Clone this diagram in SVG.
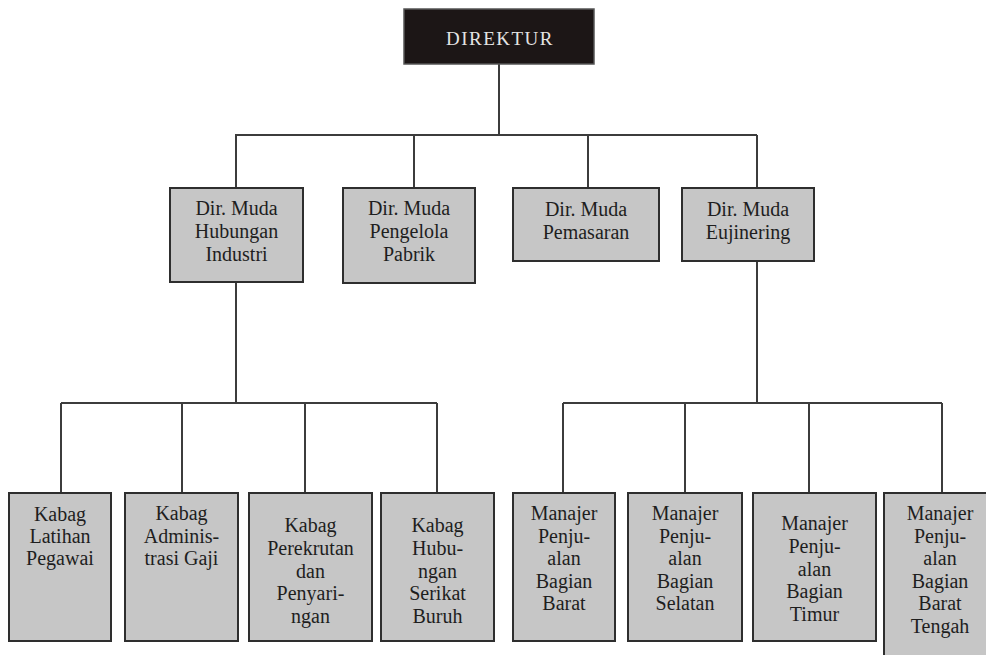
<svg xmlns="http://www.w3.org/2000/svg" width="986" height="655" viewBox="0 0 986 655">
  <style>
    .bg { fill: #ffffff; }
    .box { fill: #c6c6c6; stroke: #2e2e2e; stroke-width: 2; }
    .top { fill: #1c1616; stroke: #555; stroke-width: 1.5; }
    .lbl { font-family: "Liberation Serif", "Times New Roman", serif; font-size: 20px; fill: #1e1e1e; text-anchor: middle; }
    .toplbl { font-family: "Liberation Serif", "Times New Roman", serif; font-size: 19px; fill: #e4e4e4; text-anchor: middle; letter-spacing: 1.5px; }
    .conn { fill: none; stroke: #3c3c3c; stroke-width: 2; }
  </style>
  <rect class="bg" x="0" y="0" width="986" height="655"/>

  <g id="connectors">
    <path class="conn" d="M499 64 V135 M235 135 H757 M236 135 V188 M414 135 V188 M588 135 V188 M757 135 V188"/>
    <path class="conn" d="M236 282 V403 M61 403 H437 M61 403 V493 M182 403 V493 M305 403 V493 M437 403 V493"/>
    <path class="conn" d="M757 261 V403 M563 403 H942 M563 403 V493 M685 403 V493 M809 403 V493 M942 403 V493"/>
  </g>

  <g id="direktur">
    <rect class="top" x="404" y="9" width="190" height="55"/>
    <text class="toplbl" x="500" y="45">DIREKTUR</text>
  </g>

  <g id="dir-muda-hubungan-industri">
    <rect class="box" x="170" y="188" width="133" height="94"/>
    <text class="lbl" x="236.5" y="215">Dir. Muda</text>
    <text class="lbl" x="236.5" y="238">Hubungan</text>
    <text class="lbl" x="236.5" y="261">Industri</text>
  </g>
  <g id="dir-muda-pengelola-pabrik">
    <rect class="box" x="343" y="188" width="132" height="95"/>
    <text class="lbl" x="409" y="215">Dir. Muda</text>
    <text class="lbl" x="409" y="238">Pengelola</text>
    <text class="lbl" x="409" y="261">Pabrik</text>
  </g>
  <g id="dir-muda-pemasaran">
    <rect class="box" x="513" y="188" width="146" height="73"/>
    <text class="lbl" x="586" y="216">Dir. Muda</text>
    <text class="lbl" x="586" y="239">Pemasaran</text>
  </g>
  <g id="dir-muda-eujinering">
    <rect class="box" x="682" y="188" width="132" height="73"/>
    <text class="lbl" x="748" y="216">Dir. Muda</text>
    <text class="lbl" x="748" y="239">Eujinering</text>
  </g>

  <g id="kabag-latihan-pegawai">
    <rect class="box" x="9" y="493" width="102" height="148"/>
    <text class="lbl" x="60" y="521">Kabag</text>
    <text class="lbl" x="60" y="543">Latihan</text>
    <text class="lbl" x="60" y="565">Pegawai</text>
  </g>
  <g id="kabag-administrasi-gaji">
    <rect class="box" x="125" y="493" width="113" height="148"/>
    <text class="lbl" x="181.5" y="520">Kabag</text>
    <text class="lbl" x="181.5" y="543">Adminis-</text>
    <text class="lbl" x="181.5" y="565">trasi Gaji</text>
  </g>
  <g id="kabag-perekrutan">
    <rect class="box" x="249" y="493" width="123" height="148"/>
    <text class="lbl" x="310.5" y="532">Kabag</text>
    <text class="lbl" x="310.5" y="555">Perekrutan</text>
    <text class="lbl" x="310.5" y="578">dan</text>
    <text class="lbl" x="310.5" y="600">Penyari-</text>
    <text class="lbl" x="310.5" y="623">ngan</text>
  </g>
  <g id="kabag-hubungan-serikat-buruh">
    <rect class="box" x="381" y="493" width="113" height="148"/>
    <text class="lbl" x="437.5" y="532">Kabag</text>
    <text class="lbl" x="437.5" y="555">Hubu-</text>
    <text class="lbl" x="437.5" y="578">ngan</text>
    <text class="lbl" x="437.5" y="600">Serikat</text>
    <text class="lbl" x="437.5" y="623">Buruh</text>
  </g>

  <g id="manajer-barat">
    <rect class="box" x="513" y="493" width="102" height="148"/>
    <text class="lbl" x="564" y="520">Manajer</text>
    <text class="lbl" x="564" y="543">Penju-</text>
    <text class="lbl" x="564" y="565">alan</text>
    <text class="lbl" x="564" y="588">Bagian</text>
    <text class="lbl" x="564" y="610">Barat</text>
  </g>
  <g id="manajer-selatan">
    <rect class="box" x="628" y="493" width="114" height="148"/>
    <text class="lbl" x="685" y="520">Manajer</text>
    <text class="lbl" x="685" y="543">Penju-</text>
    <text class="lbl" x="685" y="565">alan</text>
    <text class="lbl" x="685" y="588">Bagian</text>
    <text class="lbl" x="685" y="610">Selatan</text>
  </g>
  <g id="manajer-timur">
    <rect class="box" x="753" y="493" width="123" height="148"/>
    <text class="lbl" x="814.5" y="530">Manajer</text>
    <text class="lbl" x="814.5" y="553">Penju-</text>
    <text class="lbl" x="814.5" y="576">alan</text>
    <text class="lbl" x="814.5" y="598">Bagian</text>
    <text class="lbl" x="814.5" y="621">Timur</text>
  </g>
  <g id="manajer-barat-tengah">
    <rect class="box" x="884" y="493" width="114" height="180"/>
    <text class="lbl" x="940" y="520">Manajer</text>
    <text class="lbl" x="940" y="543">Penju-</text>
    <text class="lbl" x="940" y="565">alan</text>
    <text class="lbl" x="940" y="588">Bagian</text>
    <text class="lbl" x="940" y="610">Barat</text>
    <text class="lbl" x="940" y="633">Tengah</text>
  </g>
</svg>
